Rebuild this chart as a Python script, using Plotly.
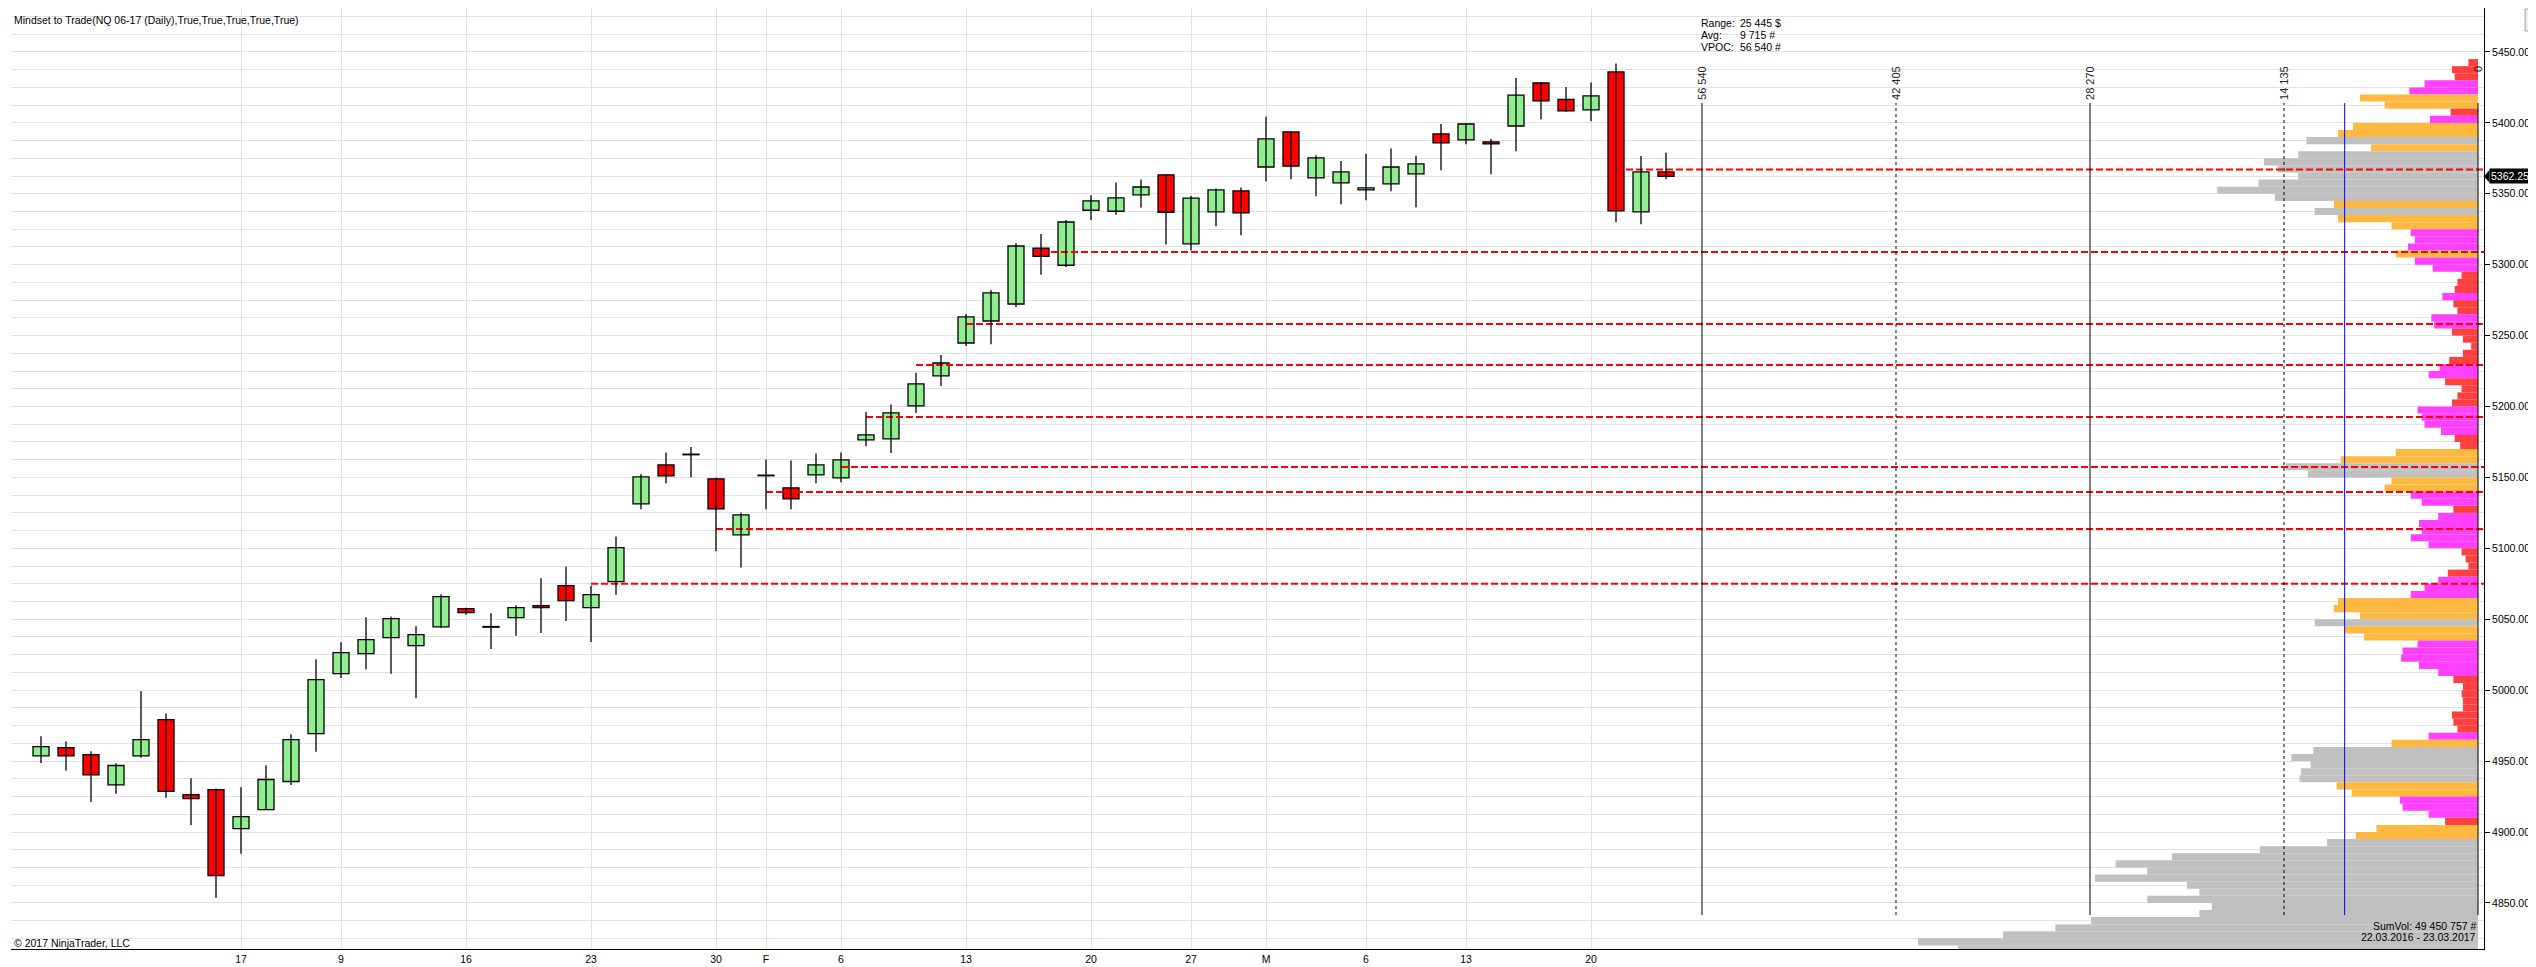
import plotly.graph_objects as go

# NQ 06-17 daily candles, session index 0 = first bar on the chart
opens = [4953.7, 4959.5, 4954.6, 4933.2, 4953.7, 4979.3, 4926.4, 4929.9, 4902.4, 4915.8,
         4935.6, 4969.4, 5011.7, 5025.8, 5037.1, 5031.4, 5044.6, 5057.5, 5044.9, 5051.2,
         5059.6, 5073.7, 5058.2, 5076.6, 5131.3, 5158.8, 5166.3, 5149.0, 5109.5, 5151.5,
         5142.6, 5151.8, 5149.7, 5176.5, 5177.2, 5200.4, 5221.6, 5244.8, 5260.3, 5272.3,
         5311.6, 5299.6, 5338.4, 5337.7, 5349.2, 5363.3, 5314.7, 5337.2, 5352.0, 5368.9,
         5393.6, 5361.2, 5357.7, 5352.7, 5357.0, 5364.0, 5392.2, 5388.0, 5386.6, 5397.8,
         5428.1, 5416.6, 5409.1, 5435.9, 5337.2, 5365.4]
highs = [4967.5, 4964.0, 4957.0, 4948.5, 4999.2, 4983.5, 4937.9, 4930.6, 4931.6, 4947.1,
         4968.9, 5021.8, 5033.8, 5051.4, 5051.9, 5045.1, 5067.6, 5058.2, 5054.2, 5059.9,
         5078.9, 5087.1, 5073.7, 5108.3, 5152.5, 5167.5, 5171.5, 5149.7, 5125.2, 5162.6,
         5161.9, 5166.8, 5167.5, 5196.4, 5201.4, 5223.9, 5236.4, 5265.3, 5282.2, 5315.1,
         5321.7, 5331.5, 5348.9, 5357.9, 5360.0, 5364.0, 5348.7, 5353.7, 5354.4, 5404.4,
         5393.8, 5377.2, 5373.2, 5378.3, 5381.9, 5376.9, 5399.2, 5400.0, 5388.7, 5431.7,
         5428.9, 5425.3, 5428.4, 5441.8, 5376.7, 5379.0]
lows = [4948.7, 4943.1, 4921.2, 4926.9, 4952.3, 4924.1, 4905.0, 4853.6, 4884.6, 4915.5,
        4933.2, 4956.5, 5008.6, 5014.8, 5011.5, 4994.3, 5043.9, 5053.1, 5029.1, 5038.3,
        5040.4, 5048.8, 5034.0, 5067.2, 5127.6, 5145.9, 5150.1, 5098.0, 5086.5, 5127.6,
        5127.6, 5145.9, 5146.6, 5172.0, 5167.3, 5195.5, 5214.5, 5242.7, 5243.9, 5270.2,
        5293.0, 5298.2, 5331.5, 5335.3, 5340.3, 5314.2, 5310.0, 5327.1, 5320.8, 5358.8,
        5360.2, 5348.3, 5342.6, 5345.4, 5351.8, 5340.5, 5366.6, 5384.9, 5363.8, 5380.0,
        5402.5, 5407.7, 5401.1, 5329.9, 5328.5, 5360.2]
closes = [4960.2, 4953.7, 4940.3, 4946.9, 4965.2, 4928.6, 4923.6, 4869.3, 4910.9, 4937.0,
          4965.2, 5007.5, 5026.5, 5035.7, 5050.5, 5039.2, 5066.0, 5054.7, 5044.4, 5058.2,
          5058.2, 5063.2, 5067.4, 5100.5, 5150.4, 5151.1, 5166.0, 5127.8, 5123.6, 5151.2,
          5134.9, 5158.8, 5162.4, 5180.0, 5195.5, 5215.9, 5230.7, 5263.2, 5280.1, 5313.2,
          5305.9, 5330.1, 5345.0, 5347.1, 5354.8, 5337.0, 5346.9, 5352.7, 5336.5, 5388.7,
          5369.6, 5375.3, 5365.4, 5354.1, 5368.9, 5371.1, 5385.9, 5399.2, 5385.2, 5419.5,
          5415.5, 5408.4, 5419.0, 5337.9, 5365.4, 5362.25]

tick_idx = [8, 12, 17, 22, 27, 29, 32, 37, 42, 46, 49, 53, 57, 62]
tick_text = ["17", "9", "16", "23", "30", "F", "6", "13", "20", "27", "M", "6", "13", "20"]

# red dashed levels and the bar they start from
level_price = [5367.1, 5309.0, 5258.2, 5229.3, 5192.7, 5157.4, 5139.8, 5113.7, 5075.0]
level_start = [63, 40, 37, 35, 33, 32, 29, 27, 22]

# volume profile, 5-point bins (lower edge) and volume in thousands
profile_price = list(range(5440, 4810, -5))
profile_vol_k = [0.7, 1.9, 1.7, 3.9, 5.0, 8.6, 6.8, 2.0, 3.5, 9.1,
                 10.2, 12.5, 7.8, 13.1, 15.6, 14.6, 13.1, 16.0, 19.0, 14.8,
                 10.5, 11.9, 10.2, 6.3, 4.9, 4.6, 5.1, 6.0, 4.6, 3.3,
                 1.2, 1.5, 1.7, 2.6, 1.8, 1.5, 3.4, 3.2, 1.9, 1.1,
                 0.5, 1.1, 2.1, 2.8, 3.6, 2.4, 1.2, 1.5, 1.9, 4.4,
                 4.1, 3.9, 2.7, 1.7, 1.3, 6.0, 10.0, 14.0, 12.4, 6.3,
                 6.8, 4.9, 4.1, 1.8, 2.9, 4.3, 4.1, 4.9, 3.6, 1.2,
                 0.9, 0.7, 2.2, 2.9, 3.9, 4.9, 10.2, 10.5, 8.6, 11.9,
                 9.7, 8.3, 4.4, 5.5, 5.6, 4.3, 2.9, 1.8, 1.1, 1.2,
                 1.1, 1.1, 1.9, 1.8, 1.5, 3.6, 6.3, 12.0, 13.6, 12.2,
                 12.9, 13.0, 10.3, 9.2, 5.7, 5.5, 3.6, 2.4, 7.4, 8.9,
                 11.0, 15.9, 22.3, 26.4, 24.1, 27.9, 21.2, 20.3, 24.1, 19.4,
                 20.3, 28.2, 30.8, 34.6, 40.8, 37.9]

vol_marks = [56540, 42405, 28270, 14135, 0]
vol_mark_text = ["56 540", "42 405", "28 270", "14 135", "0"]
avg_vol = 9715
last_price = 5362.25

FONT = "Arial, Liberation Sans, sans-serif"
GRID = "#E1E1E1"

fig = go.Figure()

# profile bars coloured by size class
def vol_color(v):
    if v >= 11.0:
        return "#C0C0C0"
    if v >= 5.8:
        return "#FFB941"
    if v >= 2.5:
        return "#FF40FF"
    return "#FF4040"

fig.add_trace(go.Bar(
    x=[v * 1000 for v in profile_vol_k],
    y=[p + 2.5 for p in profile_price],
    base=0, width=5, orientation="h",
    marker=dict(color=[vol_color(v) for v in profile_vol_k], line=dict(width=0)),
    xaxis="x", yaxis="y", showlegend=False, hoverinfo="skip",
))

# red dashed levels (above profile, below candles)
x_end = 97.72
lx, ly = [], []
for p, s in zip(level_price, level_start):
    lx += [s, x_end, None]
    ly += [p, p, None]
fig.add_trace(go.Scatter(
    x=lx, y=ly, mode="lines", xaxis="x2", yaxis="y",
    line=dict(color="#FF0000", width=2, dash="7px,3px"),
    showlegend=False, hoverinfo="skip",
))

# wicks
idx = list(range(len(opens)))
wx, wy = [], []
for i in idx:
    wx += [i, i, None]
    wy += [lows[i], highs[i], None]
fig.add_trace(go.Scatter(
    x=wx, y=wy, mode="lines", xaxis="x2", yaxis="y",
    line=dict(color="black", width=1.3),
    showlegend=False, hoverinfo="skip",
))

# bodies
bottoms = [min(o, c) for o, c in zip(opens, closes)]
heights = [max(abs(c - o), 0.4) for o, c in zip(opens, closes)]
colors = ["#90EE90" if c >= o else "#FF0000" for o, c in zip(opens, closes)]
fig.add_trace(go.Bar(
    x=idx, y=heights, base=bottoms, width=0.64,
    marker=dict(color=colors, line=dict(color="black", width=1.3)),
    xaxis="x2", yaxis="y", showlegend=False,
    customdata=list(zip(opens, highs, lows, closes)),
    hovertemplate="O %{customdata[0]}<br>H %{customdata[1]}<br>L %{customdata[2]}<br>C %{customdata[3]}<extra></extra>",
))

shapes = []
annotations = []

# profile scale lines
line_styles = ["solid", "dot", "solid", "dot", "solid"]
for v, t, d in zip(vol_marks, vol_mark_text, line_styles):
    shapes.append(dict(type="line", xref="x", yref="paper", x0=v, x1=v, y0=0.0361, y1=0.899,
                       line=dict(color="black", width=1, dash=d)))
    annotations.append(dict(x=v, y=0.9405, xref="x", yref="paper", text=t, textangle=-90,
                            showarrow=False, xanchor="center", yanchor="top",
                            font=dict(family=FONT, size=11, color="#222")))
shapes.append(dict(type="line", xref="x", yref="paper", x0=avg_vol, x1=avg_vol, y0=0.0361, y1=0.899,
                   line=dict(color="#0000FF", width=1)))

# stats text
for lab, val, yy in [("Range:", "25 445 $", 15), ("Avg:", "9 715 #", 27), ("VPOC:", "56 540 #", 39)]:
    annotations.append(dict(x=0.6826, y=1 - yy / 941, xref="paper", yref="paper", text=lab,
                            showarrow=False, xanchor="left", yanchor="middle",
                            font=dict(family=FONT, size=10.5, color="black")))
    annotations.append(dict(x=0.6983, y=1 - yy / 941, xref="paper", yref="paper", text=val,
                            showarrow=False, xanchor="left", yanchor="middle",
                            font=dict(family=FONT, size=10.5, color="black")))

annotations += [
    dict(x=0, y=1 - 12.5 / 941, xref="paper", yref="paper", xshift=1,
         text="Mindset to Trade(NQ 06-17 (Daily),True,True,True,True,True)",
         showarrow=False, xanchor="left", yanchor="middle",
         font=dict(family=FONT, size=10.5, color="black")),
    dict(x=0, y=1 - 935 / 941, xref="paper", yref="paper", xshift=1,
         text="© 2017 NinjaTrader, LLC", showarrow=False, xanchor="left", yanchor="middle",
         font=dict(family=FONT, size=10.5, color="black")),
    dict(x=0.99757, y=1 - 917.5 / 941, xref="paper", yref="paper",
         text="SumVol: 49 450 757 #", showarrow=False, xanchor="right", yanchor="middle",
         font=dict(family=FONT, size=10.5, color="black")),
    dict(x=0.99757, y=1 - 929 / 941, xref="paper", yref="paper",
         text="22.03.2016 - 23.03.2017", showarrow=False, xanchor="right", yanchor="middle",
         font=dict(family=FONT, size=10.5, color="black")),
    dict(x=1, y=last_price, xref="paper", yref="y", xshift=5,
         text="%.2f" % last_price, showarrow=False, xanchor="left", yanchor="middle",
         bgcolor="black", borderpad=1,
         font=dict(family=FONT, size=10.5, color="white")),
    dict(x=1.0207, y=1 - 11 / 941, xref="paper", yref="paper",
         text="▼", showarrow=False, xanchor="center", yanchor="middle",
         font=dict(family=FONT, size=9, color="black")),
]

# price tag arrow and dropdown button
shapes.append(dict(type="path", xref="paper", yref="y",
                   path="M 1.0 %.2f L 1.0022 %.2f L 1.0022 %.2f Z" % (last_price, last_price + 4.5, last_price - 4.5),
                   fillcolor="black", line=dict(width=0)))
shapes.append(dict(type="rect", xref="paper", yref="paper", x0=1.0166, x1=1.0248, y0=1 - 23 / 941, y1=1 - 1 / 941,
                   fillcolor="#F0F0F0", line=dict(color="#A0A0A0", width=1)))

fig.update_layout(
    width=2536, height=967,
    margin=dict(l=3, r=60, t=0, b=26),
    paper_bgcolor="white", plot_bgcolor="white",
    barmode="overlay", showlegend=False,
    font=dict(family=FONT, size=10.5, color="black"),
    xaxis=dict(range=[179745, -437], visible=False, showgrid=False, zeroline=False),
    xaxis2=dict(overlaying="x", anchor="y", side="bottom", range=[-1.2, x_end],
                tickmode="array", tickvals=tick_idx, ticktext=tick_text,
                showgrid=True, gridcolor=GRID, gridwidth=1, zeroline=False,
                showline=True, linecolor="black", linewidth=1, ticks="",
                tickfont=dict(family=FONT, size=10.5, color="black")),
    yaxis=dict(side="right", range=[4817.5, 5481.0], dtick=50, tick0=0, tickformat=".2f",
               showgrid=True, gridcolor=GRID, gridwidth=1, zeroline=False,
               showline=True, linecolor="black", linewidth=1,
               ticks="outside", ticklen=5, tickcolor="black",
               minor=dict(dtick=12.5, tick0=0, showgrid=True, gridcolor=GRID, gridwidth=1, ticklen=0),
               tickfont=dict(family=FONT, size=10.5, color="black")),
    shapes=shapes, annotations=annotations,
)

fig.write_html("out.html")
